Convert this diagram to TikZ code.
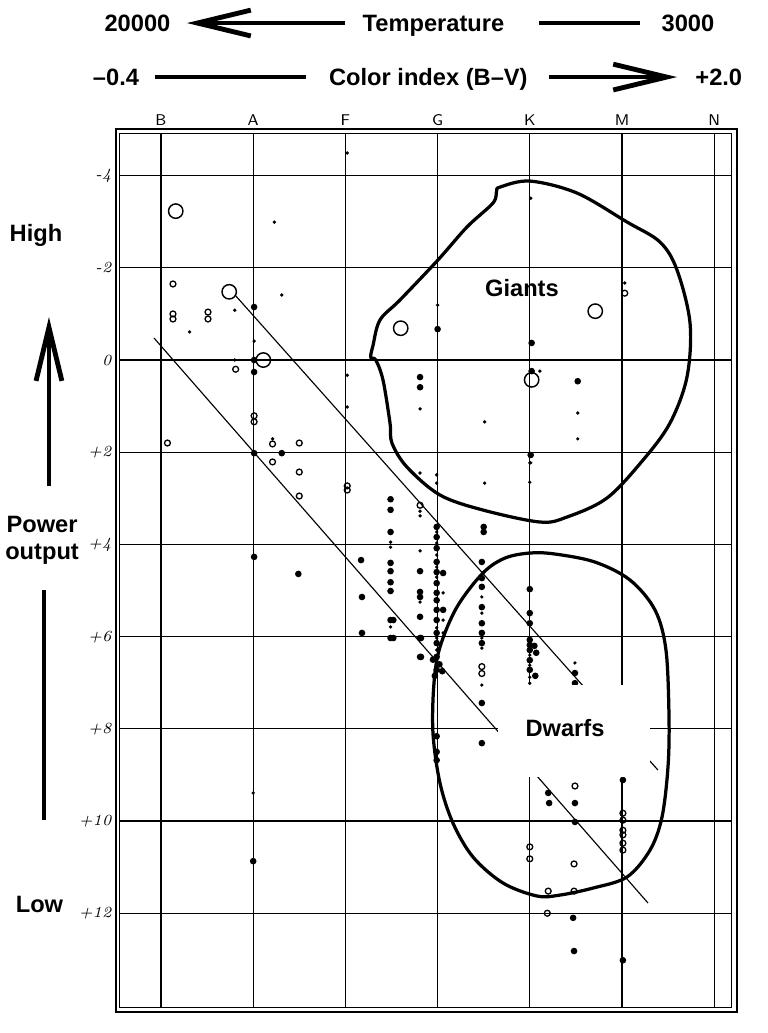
\documentclass[tikz,border=0pt]{standalone}
\usepackage{fontspec}
\newfontfamily\etiq{Liberation Sans}
\usetikzlibrary{arrows.meta}

\tikzset{
  etiquette/.style={font=\etiq\bfseries\fontsize{7.3}{8.6}\selectfont, inner sep=0pt, anchor=base},
  classe/.style={font=\sffamily\fontsize{4.8}{5}\selectfont, inner sep=0pt, anchor=base},
  graduation/.style={font=\itshape\fontsize{4.8}{5}\selectfont, inner sep=0pt},
  fleche/.style={line width=1.5pt, -{Straight Barb[length=5.8mm, width=2.8mm]}},
  barre/.style={line width=1.5pt},
  grille/.style={line width=0.35pt},
  contour/.style={line width=1pt, line join=round},
}

\begin{document}
\begin{tikzpicture}
    \useasboundingbox (-1.746,-7.299) rectangle (6.573,3.905);

    % Cadre
    \draw[line width=0.8pt] (-0.488,-7.072) rectangle (6.247,2.505);
    \draw[line width=0.3pt] (-0.445,-7.017) rectangle (6.193,2.462);

    % Colonnes
    \foreach \x in {0, ..., 6} {
      \draw[grille] (\x, -7.017) -- (\x, 2.462);
    }
    % Lignes
    \foreach \y in {-6, ..., 2} {
      \draw[grille] (-0.445, \y) -- (6.193, \y);
    }

    % Classes spectrales et magnitudes
    \foreach \x/\lettre in {0/B, 1/A, 2/F, 3/G, 4/K, 5/M, 6/N} {
      \node[classe] (c\lettre) at (\x, 2.545) {\lettre};
    }
    \foreach \y/\mag [count=\i] in {2/-4, 1/-2, 0/0, -1/+2, -2/+4, -3/+6, -4/+8, -5/+10, -6/+12} {
      \node[graduation, anchor=east] (mag\i) at (-0.53, \y) {\mag};
    }

    % Bandes diagonales
    \draw[grille] (0.803, 0.705) -- (5.390, -4.447);
    \draw[grille] (-0.076, 0.239) -- (5.282, -5.889);

    % Etoiles
    \foreach \x/\m in {1.01/-1.15, 1.01/0, 1.01/0.26, 1.01/2.02, 1.31/2.02, 1.01/4.27,
        1.49/4.64, 2.18/5.92, 2.52/5.64, 2.52/6.03, 2.82/6.03, 2.82/6.44, 1.00/10.87,
        2.99/8.16, 2.99/8.50, 2.99/8.68, 3.00/-0.67, 4.02/-0.37, 4.02/0.24, 2.81/0.37,
        2.81/0.59, 4.52/0.46, 4.01/2.06, 3.50/3.62, 3.50/3.73, 2.17/4.34, 2.18/5.14,
        2.99/3.62, 2.99/3.84, 2.99/4.08, 2.99/4.38, 2.99/4.60, 2.99/4.84, 2.99/5.05,
        2.99/5.21, 2.99/5.42, 2.99/5.64, 2.99/5.92, 2.99/6.14, 2.99/6.44, 2.99/6.72,
        2.49/3.02, 2.49/3.25, 2.49/3.73, 2.49/4.40, 2.49/4.58, 2.49/4.82, 2.49/5.01,
        2.49/5.64, 2.49/6.03, 2.81/4.58, 2.81/5.03, 2.81/5.14, 2.81/5.57, 2.81/6.03,
        2.81/6.44, 3.06/4.62, 3.06/5.42, 3.48/4.38, 3.48/4.73, 3.48/4.92, 3.48/5.36,
        3.48/5.71, 3.48/5.92, 3.48/6.14, 3.48/7.44, 3.48/8.31, 4.00/4.97, 4.00/5.49,
        4.00/5.71, 4.00/6.07, 4.00/6.18, 4.00/6.29, 4.00/6.51, 4.00/6.72, 4.05/6.20,
        4.07/6.35, 4.06/6.85, 4.49/6.79, 4.49/7.01, 2.95/6.50, 3.02/6.60, 3.05/6.75,
        2.97/6.85, 4.20/9.39, 4.21/9.61, 4.49/9.61, 4.49/10.02, 5.01/9.11, 4.47/12.10,
        4.48/12.82, 5.01/13.02} {
      \fill ({\x}, {-0.5*(\m)}) circle [radius=0.036];
    }
    \foreach \x/\m in {1.23/-2.99, 0.31/-0.61, 0.80/-1.08, 1.31/-1.41, 1.01/-0.41,
        0.80/0, 2.02/-4.49, 2.02/0.33, 2.02/1.02, 1.21/1.71, 1.00/9.39, 4.52/1.15,
        4.52/1.71, 3.51/1.34, 4.01/2.23, 2.81/2.45, 2.99/2.49, 2.99/2.67, 3.51/2.67,
        4.11/0.24, 3.00/-1.19, 4.01/-3.51, 5.03/-1.67, 2.99/3.73, 2.99/3.97, 2.99/4.23,
        2.99/4.49, 2.99/4.71, 2.99/5.81, 2.99/6.03, 2.99/6.29, 2.99/6.57, 2.49/3.95,
        2.49/4.06, 2.49/5.79, 2.81/1.06, 2.81/3.28, 2.81/3.38, 2.81/4.14, 2.81/5.25,
        3.06/5.05, 3.06/5.64, 3.06/5.92, 3.48/5.14, 3.48/5.49, 3.48/6.03, 3.48/6.25,
        3.48/7.05, 4.00/2.23, 4.00/2.65, 4.00/6.40, 4.00/6.62, 4.00/6.88, 4.00/7.01,
        4.49/6.57} {
      \fill ({\x}, {-0.5*(\m)}) circle [radius=0.02];
    }
    \foreach \x/\m in {0.13/-1.65, 0.13/-1.00, 0.13/-0.89, 0.51/-1.04, 0.51/-0.89,
        0.81/0.20, 0.07/1.80, 1.01/1.21, 1.01/1.34, 1.21/1.82, 1.21/2.21, 1.50/1.80,
        1.50/2.43, 1.50/2.95, 2.02/2.73, 2.02/2.82, 2.81/3.15, 5.03/-1.45, 3.48/6.65,
        3.48/6.80, 4.49/9.24, 5.01/9.83, 5.01/9.98, 5.01/10.20, 5.01/10.30, 5.01/10.48,
        5.01/10.63, 4.00/10.56, 4.00/10.82, 4.48/10.93, 4.20/11.52, 4.48/11.52,
        4.19/12.00} {
      \draw[line width=0.4pt] ({\x}, {-0.5*(\m)}) circle [radius=0.032];
    }
    \foreach \x/\m in {0.16/-3.23, 0.74/-1.48, 1.11/0, 2.60/-0.69, 4.02/0.43, 4.71/-1.06} {
      \draw[line width=0.45pt] ({\x}, {-0.5*(\m)}) circle [radius=0.078];
    }

    % Geantes et naines
    \fill[white] (3.655, -3.525) rectangle (5.30, -4.523);
    \draw[contour] plot[smooth cycle, tension=0.55] coordinates {
      (3.677,1.876) (4.002,1.941) (4.512,1.811) (5.054,1.497) (5.412,1.280)
      (5.597,0.976) (5.738,0.401) (5.705,-0.184) (5.521,-0.683) (5.228,-1.085)
      (4.837,-1.497) (4.403,-1.703) (4.111,-1.757) (3.492,-1.627) (3.026,-1.464)
      (2.668,-1.161) (2.505,-0.900) (2.484,-0.683) (2.408,-0.217) (2.330,0.000)
      (2.275,0.030) (2.300,0.160) (2.375,0.434) (2.592,0.651) (3.004,1.085)
      (3.319,1.443) (3.601,1.703) (3.640,1.830)};
    \draw[contour] plot[smooth cycle, tension=0.55] coordinates {
      (4.002,-2.093) (4.273,-2.104) (4.707,-2.191) (5.087,-2.386) (5.358,-2.711)
      (5.477,-3.145) (5.510,-3.872) (5.499,-4.414) (5.434,-4.957) (5.304,-5.315)
      (5.054,-5.607) (4.685,-5.727) (4.328,-5.803) (4.078,-5.813) (3.709,-5.672)
      (3.384,-5.390) (3.167,-5.022) (3.026,-4.588) (2.950,-4.046) (2.961,-3.503)
      (3.026,-3.113) (3.210,-2.679) (3.492,-2.310) (3.731,-2.148)};
    \node[etiquette] (geantes) at (3.915, 0.689) {Giants};
    \node[etiquette] (naines) at (4.382, -4.084) {Dwarfs};

    % Temperature
    \node[etiquette] (tchaud) at (-0.255, 3.563) {20000};
    \node[etiquette] (temp) at (2.955, 3.563) {Temperature};
    \node[etiquette] (tfroid) at (5.716, 3.563) {3000};
    \coordinate (tA) at (1.996, 3.655);
    \coordinate (tB) at (0.282, 3.655);
    \coordinate (tC) at (4.100, 3.655);
    \coordinate (tD) at (5.200, 3.655);
    \draw[fleche] (tA) -- (tB);
    \draw[barre] (tC) -- (tD);

    % Indice de couleur
    \node[etiquette] (bvmin) at (-0.488, 2.977) {–0.4};
    \node[etiquette] (indice) at (2.900, 2.977) {Color index (B–V)};
    \node[etiquette] (bvmax) at (6.050, 2.977) {+2.0};
    \coordinate (iA) at (-0.065, 3.069);
    \coordinate (iB) at (1.578, 3.069);
    \coordinate (iC) at (4.208, 3.069);
    \coordinate (iD) at (5.597, 3.069);
    \draw[barre] (iA) -- (iB);
    \draw[fleche] (iC) -- (iD);

    % Puissance
    \node[etiquette] (haut) at (-1.356, 1.285) {High};
    \node[etiquette] (puissance) at (-1.29, -1.871) {Power};
    \node[etiquette] (sortie) at (-1.29, -2.160) {output};
    \node[etiquette] (bas) at (-1.318, -5.993) {Low};
    \coordinate (pA) at (-1.215, -1.367);
    \coordinate (pB) at (-1.215, 0.466);
    \coordinate (pC) at (-1.269, -2.495);
    \coordinate (pD) at (-1.269, -4.989);
    \draw[fleche] (pA) -- (pB);
    \draw[barre] (pC) -- (pD);
  \end{tikzpicture}
\end{document}
